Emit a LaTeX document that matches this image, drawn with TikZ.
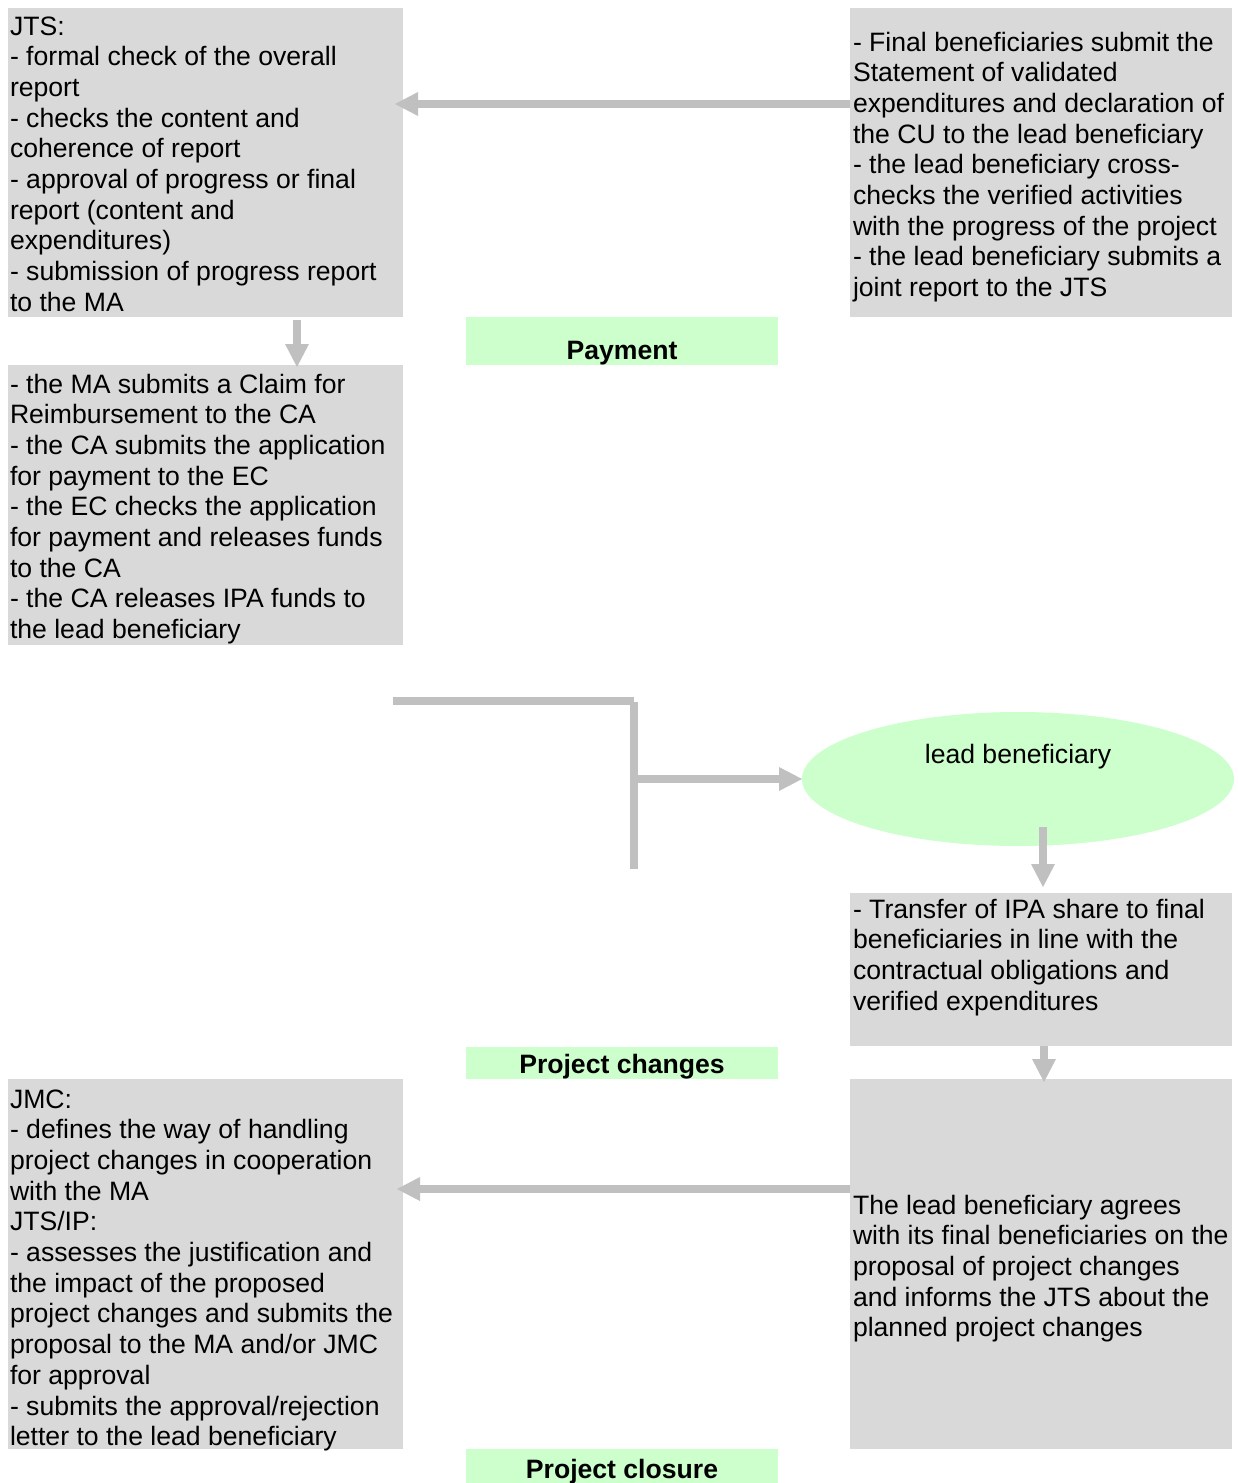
\documentclass[tikz,border=0pt]{standalone}
\usepackage{fontspec}
\setmainfont{Liberation Sans}
\usetikzlibrary{arrows.meta,shapes.geometric}
\definecolor{boxgray}{HTML}{D9D9D9}
\definecolor{arrgray}{HTML}{C0C0C0}
\definecolor{lgreen}{HTML}{CCFFCC}
\newcommand\fstrut{\rule{0pt}{24pt}}
\begin{document}
\begin{tikzpicture}[x=1pt,y=-1pt,
  graybox/.style={fill=boxgray, draw=none, inner sep=0pt, outer sep=0pt, anchor=north west},
  greenbox/.style={fill=lgreen, draw=none, inner sep=0pt, outer sep=0pt, anchor=north west},
  bodytext/.style={inner sep=0pt, outer sep=0pt, anchor=north west, align=left, font=\fontsize{26.6}{30.7}\selectfont},
  lbltext/.style={inner sep=0pt, outer sep=0pt, anchor=base, font=\fontsize{26.6}{30.7}\selectfont\bfseries},
  plaintext/.style={inner sep=0pt, outer sep=0pt, anchor=base, font=\fontsize{26.6}{30.7}\selectfont},
  arr/.style={draw=arrgray, line width=7.5pt, -{Triangle[length=23pt,width=24pt,line width=0pt]}},
  ln/.style={draw=arrgray, line width=7.5pt}]
\useasboundingbox (0,0) rectangle (1237,1483);

% boxes
\node[graybox, minimum width=395pt, minimum height=309pt] (jts) at (8,8) {};
\node[graybox, minimum width=382pt, minimum height=309pt] (fin) at (850,8) {};
\node[greenbox, minimum width=312pt, minimum height=48pt] (pay) at (466,317) {};
\node[graybox, minimum width=395pt, minimum height=280pt] (ma) at (8,365) {};
\node[ellipse, fill=lgreen, draw=none, inner sep=0pt, outer sep=0pt, minimum width=432pt, minimum height=134pt] (lead) at (1018,779) {};
\node[graybox, minimum width=382pt, minimum height=153pt] (trans) at (850,893) {};
\node[greenbox, minimum width=312pt, minimum height=32pt] (chg) at (466,1047) {};
\node[graybox, minimum width=395pt, minimum height=370pt] (jmc) at (8,1079) {};
\node[graybox, minimum width=382pt, minimum height=370pt] (agr) at (850,1079) {};
\node[greenbox, minimum width=312pt, minimum height=34pt] (clo) at (466,1449) {};

% texts
\node[bodytext] (jtsT) at (10,11) {\fstrut JTS:\\
- formal check of the overall\\
report\\
- checks the content and\\
coherence of report\\
- approval of progress or final\\
report (content and\\
expenditures)\\
- submission of progress report\\
to the MA};

\node[bodytext] (finT) at (853,27) {\fstrut - Final beneficiaries submit the\\
Statement of validated\\
expenditures and declaration of\\
the CU to the lead beneficiary\\
- the lead beneficiary cross-\\
checks the verified activities\\
with the progress of the project\\
- the lead beneficiary submits a\\
joint report to the JTS};

\node[bodytext] (maT) at (10,369) {\fstrut - the MA submits a Claim for\\
Reimbursement to the CA\\
- the CA submits the application\\
for payment to the EC\\
- the EC checks the application\\
for payment and releases funds\\
to the CA\\
- the CA releases IPA funds to\\
the lead beneficiary};

\node[bodytext] (transT) at (853,894) {\fstrut - Transfer of IPA share to final\\
beneficiaries in line with the\\
contractual obligations and\\
verified expenditures};

\node[bodytext] (jmcT) at (10,1084) {\fstrut JMC:\\
- defines the way of handling\\
project changes in cooperation\\
with the MA\\
JTS/IP:\\
- assesses the justification and\\
the impact of the proposed\\
project changes and submits the\\
proposal to the MA and/or JMC\\
for approval\\
- submits the approval/rejection\\
letter to the lead beneficiary};

\node[bodytext] (agrT) at (853,1190) {\fstrut The lead beneficiary agrees\\
with its final beneficiaries on the\\
proposal of project changes\\
and informs the JTS about the\\
planned project changes};

\node[lbltext] (payT) at (622,359) {Payment};
\node[lbltext] (chgT) at (622,1073) {Project changes};
\node[lbltext] (cloT) at (622,1478) {Project closure};
\node[plaintext] (leadT) at (1018,763) {lead beneficiary};

% connectors
\draw[arr, shorten >=-8pt] (fin.west |- 0,104) -- (jts.east |- 0,104);
\draw[arr, shorten <=3pt, shorten >=-2pt] (jts.south -| 297,0) -- (ma.north -| 297,0);
\draw[arr, shorten <=-19pt, shorten >=6pt] (lead.south -| 1043,0) -- (trans.north -| 1043,0);
\draw[arr, shorten >=-3pt] (trans.south -| 1044,0) -- (agr.north -| 1044,0);
\draw[arr, shorten >=-6pt] (agr.west |- 0,1189) -- (jmc.east |- 0,1189);

\coordinate (c1) at (393,701);
\coordinate (c2) at (634,701);
\coordinate (c3) at (634,702);
\coordinate (c4) at (634,869);
\coordinate (c5) at (634,779);
\draw[ln] (c1) -- (c2);
\draw[ln] (c3) -- (c4);
\draw[arr] (c5) -- (lead.west);
\end{tikzpicture}
\end{document}
